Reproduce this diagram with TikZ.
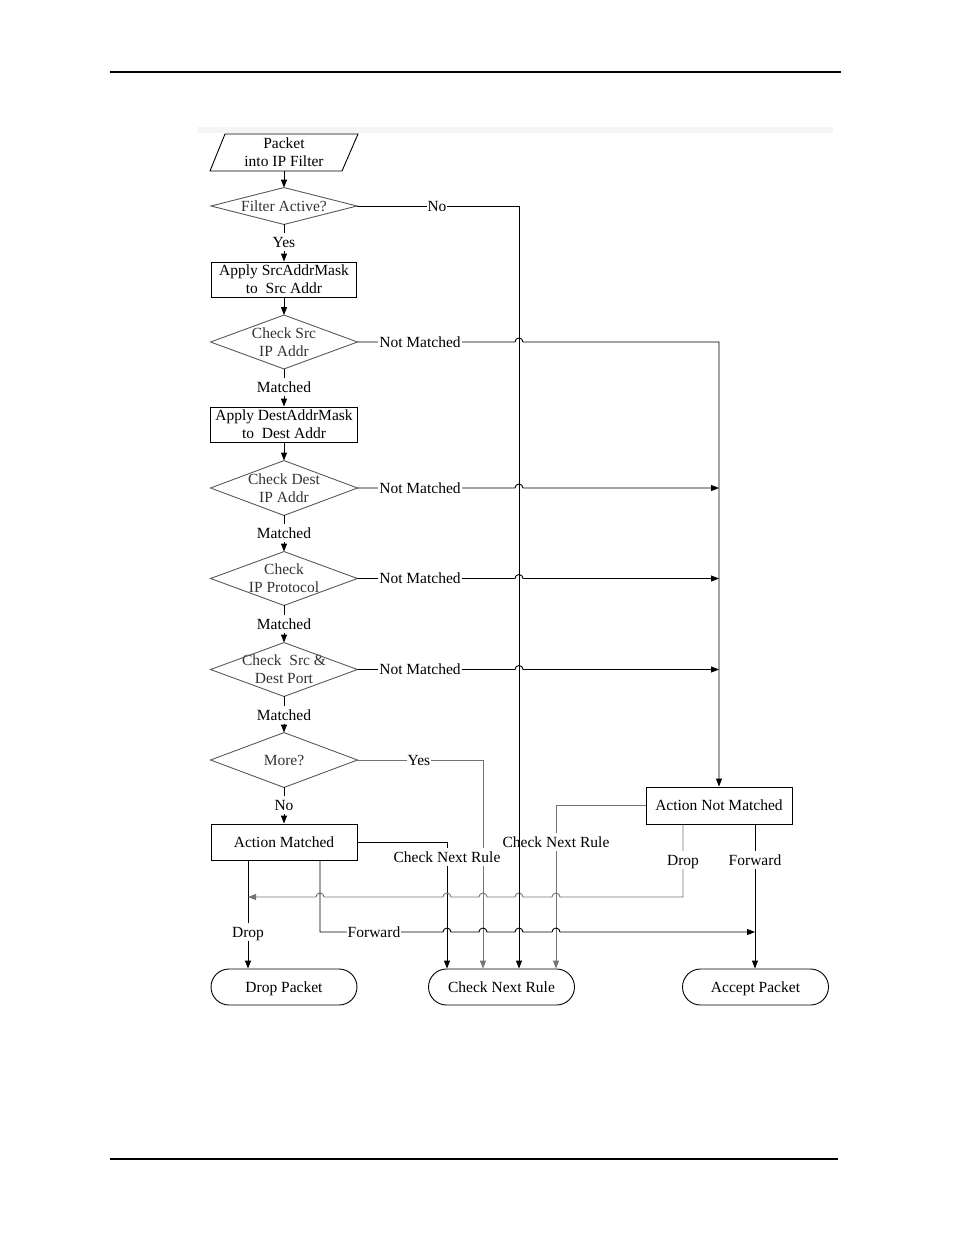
\documentclass[tikz,border=0pt]{standalone}
\usepackage{fontspec}
\setmainfont{Liberation Serif}
\usetikzlibrary{arrows.meta}
\begin{document}
\begin{tikzpicture}[x=1pt,y=1pt,
  font=\fontsize{15.5}{18}\selectfont,
  line width=0.9pt,
  box/.style={draw, rectangle, minimum width=146pt, minimum height=36pt, inner sep=0pt, align=center},
  one/.style={text height=13.5pt, text depth=3pt},
  term/.style={box, one, rounded corners=18pt},
  dia/.style={rectangle, minimum width=146pt, minimum height=53pt, inner sep=0pt, align=center, text=black!80},
  lbl/.style={fill=white, inner sep=1pt, one},
  arr/.style={-{Triangle[length=8pt,width=6pt]}},
  gline/.style={draw=black!55},
  hopr/.style 2 args={insert path={-- (#1-4,#2) arc[start angle=180,end angle=0,radius=4]}},
  hopl/.style 2 args={insert path={-- (#1+4,#2) arc[start angle=0,end angle=180,radius=4]}}
]
\useasboundingbox (0,0) rectangle (954,-1235);
% page decorations
\draw[line width=1.2pt] (110,-72) -- (841,-72);
\draw[line width=1.2pt] (110,-1159) -- (838,-1159);
\fill[black!4, draw=none] (197,-127) rectangle (833,-133);

% nodes
\draw (225,-134) -- (358,-134) -- (342,-171) -- (210,-171) -- cycle;
\node[rectangle, minimum width=148pt, minimum height=37pt, inner sep=0pt, align=center] (pkt) at (284,-152.5) {Packet\\into IP Filter};
\node[dia, one, minimum width=145pt, minimum height=36pt] (fa) at (284,-206) {Filter Active?};
\node[box, minimum width=145pt, minimum height=35pt] (src1) at (284,-279.5) {Apply SrcAddrMask\\to\ \ Src Addr};
\node[dia] (cs) at (284,-342) {Check Src\\IP Addr};
\node[box, minimum width=147pt, minimum height=35pt] (dst1) at (284,-424.5) {Apply DestAddrMask\\to\ \ Dest Addr};
\node[dia, minimum height=54pt] (cd) at (284,-488) {Check Dest\\IP Addr};
\node[dia] (cp) at (284,-578.5) {Check\\IP Protocol};
\node[dia] (cport) at (284,-669.5) {Check\ \ Src \&\\Dest Port};
\node[dia, one, minimum height=54pt] (more) at (284,-760) {More?};
\node[box, one] (am) at (284,-842) {Action Matched};
\node[box, one, minimum height=37pt] (anm) at (719,-805.5) {Action Not Matched};
\node[term] (drop) at (284,-987) {Drop Packet};
\node[term] (cnr) at (501.5,-987) {Check Next Rule};
\node[term] (acc) at (755.5,-987) {Accept Packet};

\foreach \n in {fa,cs,cd,cp,cport,more}
  \draw[black!65] (\n.west) -- (\n.north) -- (\n.east) -- (\n.south) -- cycle;

\coordinate (dj) at (248,-897);
\coordinate (fj) at (755,-932);

% main vertical flow
\draw[arr] (pkt.south) -- (fa.north);
\draw[arr] (fa.south) -- (src1.north);
\draw[arr] (src1.south) -- (cs.north);
\draw[arr] (cs.south) -- (dst1.north);
\draw[arr] (dst1.south) -- (cd.north);
\draw[arr] (cd.south) -- (cp.north);
\draw[arr] (cp.south) -- (cport.north);
\draw[arr] (cport.south) -- (more.north);
\draw[arr] (more.south) -- (am.north);

% Not Matched lines
\draw[arr] (cs.east) [hopr={519}{-342}] -- (719,-342) -- (anm.north);
\draw[arr] (cd.east) [hopr={519}{-488}] -- (719,-488);
\draw[arr] (cp.east) [hopr={519}{-578.5}] -- (719,-578.5);
\draw[arr] (cport.east) [hopr={519}{-669.5}] -- (719,-669.5);

% More? Yes
\draw[arr, gline] (more.east) -- (483,-760) -- ([xshift=-18.5pt]cnr.north);
% Action Matched -> Check Next Rule
\draw[arr] (am.east) -| ([xshift=-54.5pt]cnr.north);
% Action Not Matched -> Check Next Rule
\draw[arr, gline] (anm.west) -| ([xshift=54.5pt]cnr.north);
% Action Matched Drop
\draw[arr] ([xshift=-36pt]am.south) -- ([xshift=-36pt]drop.north);
% Action Not Matched Drop
\draw[arr, gline] ([xshift=-36pt]anm.south) -- (683,-897)
  [hopl={556}{-897}] [hopl={519}{-897}] [hopl={483}{-897}] [hopl={447}{-897}] [hopl={320}{-897}] -- (dj);
% Action Matched Forward
\draw[arr] ([xshift=36pt]am.south) -- (320,-932)
  [hopr={447}{-932}] [hopr={483}{-932}] [hopr={519}{-932}] [hopr={556}{-932}] -- (fj);
% Action Not Matched Forward
\draw[arr] ([xshift=36pt]anm.south) -- ([xshift=36pt]anm.south |- acc.north);

% labels
\node[lbl] at (284,-242) {Yes};
\node[lbl] at (284,-387) {Matched};
\node[lbl] at (284,-533) {Matched};
\node[lbl] at (284,-624) {Matched};
\node[lbl] at (284,-715) {Matched};
\node[lbl] at (284,-805) {No};
\node[lbl] at (420,-342) {Not Matched};
\node[lbl] at (420,-488) {Not Matched};
\node[lbl] at (420,-578.5) {Not Matched};
\node[lbl] at (420,-669.5) {Not Matched};
\node[lbl] at (419,-760) {Yes};
\node[lbl] at (447,-857) {Check Next Rule};
\node[lbl] at (556,-842) {Check Next Rule};
\node[lbl] at (683,-860) {Drop};
\node[lbl] at (755,-860) {Forward};
\node[lbl] at (248,-932) {Drop};
\node[lbl] at (374,-932) {Forward};

% Filter Active? No (drawn last)
\draw[arr] (fa.east) -- (519,-206) -- ([xshift=17.5pt]cnr.north);
\node[lbl] at (437,-206) {No};
\end{tikzpicture}
\end{document}
